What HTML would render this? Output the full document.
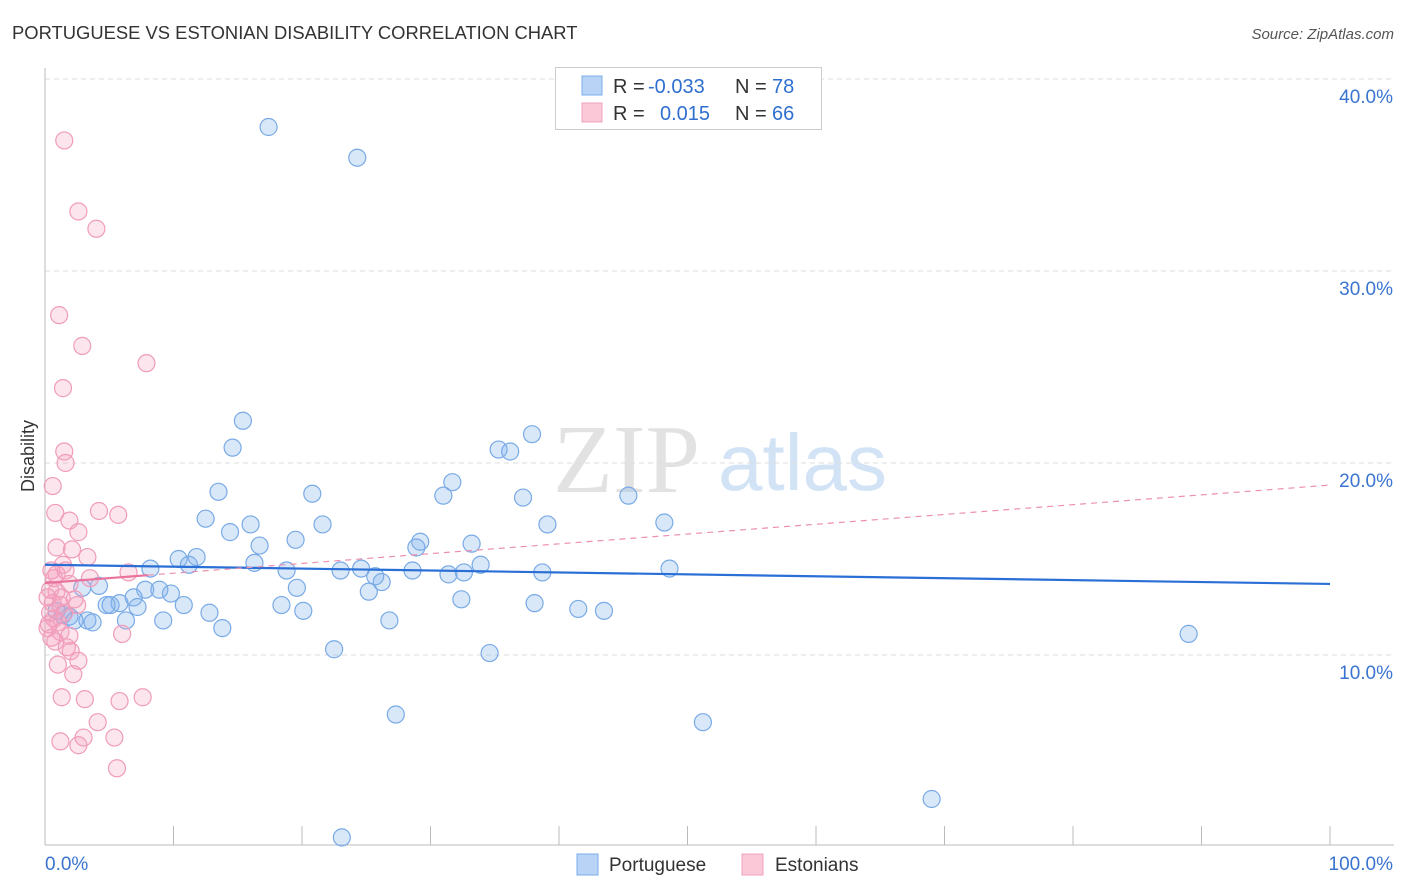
<!DOCTYPE html>
<html><head><meta charset="utf-8"><style>
body{margin:0;background:#fff;font-family:"Liberation Sans",sans-serif;}
svg{display:block}
</style></head><body>
<svg id="chart" width="1406" height="892" xmlns="http://www.w3.org/2000/svg">
<text x="12" y="39" font-size="18.4" fill="#333">PORTUGUESE VS ESTONIAN DISABILITY CORRELATION CHART</text>
<text x="1394" y="39" font-size="15" fill="#555" font-style="italic" text-anchor="end">Source: ZipAtlas.com</text>
<text x="553" y="492" font-size="98" fill="#e2e2e2" font-family="Liberation Serif,serif">ZIP</text>
<text x="718" y="490" font-size="80" fill="#d3e3f6">atlas</text>
<g id="grid"></g>
<g id="axes"></g>
<g id="marks"></g>
<text x="34" y="456" font-size="18" fill="#333" text-anchor="middle" transform="rotate(-90 34 456)">Disability</text>
<g>
<rect x="555.5" y="67.5" width="266" height="62" fill="#fff" stroke="#ccc"/>
<rect x="582" y="76" width="20" height="19" fill="#b8d3f5" stroke="#7aaee8"/>
<rect x="582" y="103" width="20" height="19" fill="#fbc8d8" stroke="#f0a0bc"/>
<text x="613" y="93" font-size="20" fill="#333">R = <tspan x="648" fill="#2f6fd0">-0.033</tspan><tspan x="735">N = </tspan><tspan x="772" fill="#2f6fd0">78</tspan></text>
<text x="613" y="120" font-size="20" fill="#333">R = <tspan x="660" fill="#2f6fd0">0.015</tspan><tspan x="735">N = </tspan><tspan x="772" fill="#2f6fd0">66</tspan></text>
</g>
<g>
<rect x="577" y="854" width="21" height="21" fill="#b8d3f5" stroke="#7aaee8"/>
<text x="609" y="871" font-size="19" fill="#333">Portuguese</text>
<rect x="742" y="854" width="21" height="21" fill="#fbc8d8" stroke="#f0a0bc"/>
<text x="775" y="871" font-size="19" fill="#333">Estonians</text>
</g>
</svg>
<script>
const yTicks=[10,20,30,40];
const yTickLabels=["10.0%","20.0%","30.0%","40.0%"];
const xTickLabels=["0.0%","100.0%"];
const blueX=[17.4,24.3,15.4,14.6,37.9,35.3,36.2,13.5,20.8,31.7,31.0,37.2,45.4,12.5,16.0,21.6,39.1,48.2,14.4,16.7,19.5,29.2,28.9,33.2,10.4,11.8,16.3,11.2,8.2,18.8,23.0,24.6,25.7,28.6,31.4,32.6,33.9,38.7,48.6,4.2,2.9,7.8,8.9,9.8,19.6,26.2,25.2,6.9,5.8,4.8,7.2,10.8,18.4,20.1,32.4,38.1,41.5,43.5,12.8,1.4,1.9,3.3,2.3,6.3,3.7,9.2,26.8,13.8,22.5,34.6,89.0,27.3,51.2,69.0,23.1,0.9,5.1];
const blueY=[37.5,35.9,22.2,20.8,21.5,20.7,20.6,18.5,18.4,19.0,18.3,18.2,18.3,17.1,16.8,16.8,16.8,16.9,16.4,15.7,16.0,15.9,15.6,15.8,15.0,15.1,14.8,14.7,14.5,14.4,14.4,14.5,14.1,14.4,14.2,14.3,14.7,14.3,14.5,13.6,13.5,13.4,13.4,13.2,13.5,13.8,13.3,13.0,12.7,12.6,12.5,12.6,12.6,12.3,12.9,12.7,12.4,12.3,12.2,12.1,12.0,11.8,11.8,11.8,11.7,11.8,11.8,11.4,10.3,10.1,11.1,6.9,6.5,2.5,0.5,12.3,12.6];
const pinkX=[1.5,2.6,4.0,1.1,2.9,7.9,1.4,1.5,1.6,0.6,0.8,4.2,5.7,1.9,2.6,0.9,2.1,3.3,1.4,0.7,3.5,6.5,1.9,0.9,1.3,2.3,0.2,0.6,1.2,2.5,0.4,0.7,1.5,1.0,0.2,1.2,1.9,0.5,0.8,6.0,1.7,2.0,2.6,1.0,2.2,1.3,3.1,5.8,7.6,4.1,3.0,5.4,1.2,2.6,5.6,0.3,0.4,0.9,1.6,0.5];
const pinkY=[36.8,33.1,32.2,27.7,26.1,25.2,23.9,20.6,20.0,18.8,17.4,17.5,17.3,17.0,16.4,15.6,15.5,15.1,14.7,14.0,14.0,14.3,13.7,13.3,13.0,12.9,13.0,12.7,12.6,12.6,12.2,11.9,12.2,11.7,11.4,11.2,11.0,10.9,10.7,11.1,10.4,10.2,9.7,9.5,9.0,7.8,7.7,7.6,7.8,6.5,5.7,5.7,5.5,5.3,4.1,11.6,13.4,14.2,14.4,14.4];
const blueTrend=[14.7,13.7];
const pinkTrend=[13.75,18.85];
const pinkSolidEnd=8;

const X0=45,X1=1330,YB=847,PY=19.2;
const sx=v=>X0+(X1-X0)*v/100;
const sy=v=>YB-v*PY;
const NS="http://www.w3.org/2000/svg";
function mk(tag,attrs,parent){const e=document.createElementNS(NS,tag);for(const k in attrs)e.setAttribute(k,attrs[k]);parent.appendChild(e);return e;}
const grid=document.getElementById('grid'),axes=document.getElementById('axes'),marks=document.getElementById('marks');
yTicks.forEach((t,i)=>{
  const l=mk('line',{x1:45,x2:1394,y1:sy(t),y2:sy(t),stroke:'#ddd','stroke-dasharray':'5,4'},grid);
  
  
  const tx=mk('text',{x:1393,y:sy(t)+24,'font-size':19,fill:'#3a74d0','text-anchor':'end'},axes);
  tx.textContent=yTickLabels[i];
  
  
});
let a=mk('line',{x1:45,x2:45,y1:68,y2:845,stroke:'#bbb'},axes);


a=mk('line',{x1:45,x2:1394,y1:845,y2:845,stroke:'#bbb'},axes);


for(let i=0;i<=10;i++){
  const t=mk('line',{x1:sx(i*10),x2:sx(i*10),y1:826,y2:845,stroke:'#bbb'},axes);
  
  
}
let xl=mk('text',{x:45,y:870,'font-size':19,fill:'#3a74d0'},axes);xl.textContent=xTickLabels[0];


xl=mk('text',{x:1393,y:870,'font-size':19,fill:'#3a74d0','text-anchor':'end'},axes);xl.textContent=xTickLabels[1];



blueX.forEach((x,i)=>{
  const c=mk('circle',{cx:sx(x),cy:sy(blueY[i]),r:8.5,fill:'rgba(130,178,235,0.3)',stroke:'#79aae6','stroke-width':1.2},marks);
  
  
});
pinkX.forEach((x,i)=>{
  const c=mk('circle',{cx:sx(x),cy:sy(pinkY[i]),r:8.5,fill:'rgba(245,160,190,0.28)',stroke:'#f09cba','stroke-width':1.2},marks);
  
  
});
let ln=mk('line',{x1:sx(0),y1:sy(blueTrend[0]),x2:sx(100),y2:sy(blueTrend[1]),stroke:'#2a6fd6','stroke-width':2.2},marks);


const pAt=x=>pinkTrend[0]+(pinkTrend[1]-pinkTrend[0])*x/100;
ln=mk('line',{x1:sx(pinkSolidEnd),y1:sy(pAt(pinkSolidEnd)),x2:sx(100),y2:sy(pinkTrend[1]),stroke:'#ec8fb0','stroke-width':1.2,'stroke-dasharray':'6,5'},marks);


ln=mk('line',{x1:sx(0),y1:sy(pinkTrend[0]),x2:sx(pinkSolidEnd),y2:sy(pAt(pinkSolidEnd)),stroke:'#e8739c','stroke-width':2.2},marks);


</script>
</body></html>
